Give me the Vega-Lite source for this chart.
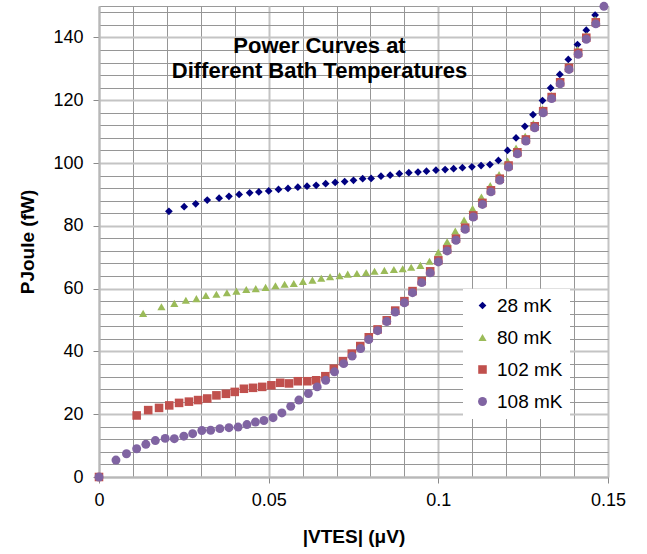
{
  "$schema": "https://vega.github.io/schema/vega-lite/v6.json",
  "width": 509,
  "height": 471,
  "autosize": {"type": "none"},
  "padding": {"left": 99, "top": 6, "right": 39, "bottom": 77},
  "background": "white",
  "config": {
    "view": {"stroke": "#9a9a9a", "strokeWidth": 1},
    "font": "Liberation Sans"
  },
  "title": {
    "text": ["Power Curves at", "Different Bath Temperatures"],
    "font": "Liberation Sans",
    "fontSize": 22,
    "fontWeight": "bold",
    "color": "#000000",
    "lineHeight": 25,
    "anchor": "middle",
    "frame": "group",
    "dx": -34,
    "offset": -81
  },
  "resolve": {"axis": {"x": "independent", "y": "independent"}},
  "datasets": {
    "pts": [
      {"s": "28 mK", "x": 0.0206, "y": 84.6},
      {"s": "28 mK", "x": 0.0251, "y": 86.1},
      {"s": "28 mK", "x": 0.0285, "y": 87.0},
      {"s": "28 mK", "x": 0.0319, "y": 88.2},
      {"s": "28 mK", "x": 0.0354, "y": 88.8},
      {"s": "28 mK", "x": 0.0383, "y": 89.4},
      {"s": "28 mK", "x": 0.0413, "y": 90.0},
      {"s": "28 mK", "x": 0.0444, "y": 90.5},
      {"s": "28 mK", "x": 0.0471, "y": 90.8},
      {"s": "28 mK", "x": 0.0500, "y": 91.1},
      {"s": "28 mK", "x": 0.0529, "y": 91.6},
      {"s": "28 mK", "x": 0.0557, "y": 91.9},
      {"s": "28 mK", "x": 0.0586, "y": 92.3},
      {"s": "28 mK", "x": 0.0613, "y": 92.6},
      {"s": "28 mK", "x": 0.0640, "y": 92.9},
      {"s": "28 mK", "x": 0.0668, "y": 93.4},
      {"s": "28 mK", "x": 0.0696, "y": 93.8},
      {"s": "28 mK", "x": 0.0724, "y": 94.1},
      {"s": "28 mK", "x": 0.0750, "y": 94.5},
      {"s": "28 mK", "x": 0.0777, "y": 95.0},
      {"s": "28 mK", "x": 0.0802, "y": 95.1},
      {"s": "28 mK", "x": 0.0831, "y": 95.8},
      {"s": "28 mK", "x": 0.0858, "y": 96.1},
      {"s": "28 mK", "x": 0.0885, "y": 96.6},
      {"s": "28 mK", "x": 0.0913, "y": 96.9},
      {"s": "28 mK", "x": 0.0940, "y": 97.1},
      {"s": "28 mK", "x": 0.0965, "y": 97.4},
      {"s": "28 mK", "x": 0.0993, "y": 97.7},
      {"s": "28 mK", "x": 0.1020, "y": 97.9},
      {"s": "28 mK", "x": 0.1045, "y": 98.2},
      {"s": "28 mK", "x": 0.1071, "y": 98.5},
      {"s": "28 mK", "x": 0.1099, "y": 98.8},
      {"s": "28 mK", "x": 0.1126, "y": 99.2},
      {"s": "28 mK", "x": 0.1152, "y": 99.5},
      {"s": "28 mK", "x": 0.1177, "y": 100.8},
      {"s": "28 mK", "x": 0.1204, "y": 104.0},
      {"s": "28 mK", "x": 0.1229, "y": 108.0},
      {"s": "28 mK", "x": 0.1255, "y": 111.7},
      {"s": "28 mK", "x": 0.1279, "y": 115.4},
      {"s": "28 mK", "x": 0.1307, "y": 119.9},
      {"s": "28 mK", "x": 0.1331, "y": 123.9},
      {"s": "28 mK", "x": 0.1358, "y": 128.2},
      {"s": "28 mK", "x": 0.1383, "y": 133.0},
      {"s": "28 mK", "x": 0.1410, "y": 137.7},
      {"s": "28 mK", "x": 0.1436, "y": 142.3},
      {"s": "28 mK", "x": 0.1462, "y": 147.1},

      {"s": "80 mK", "x": 0.0130, "y": 52.1},
      {"s": "80 mK", "x": 0.0184, "y": 54.2},
      {"s": "80 mK", "x": 0.0222, "y": 55.3},
      {"s": "80 mK", "x": 0.0256, "y": 56.3},
      {"s": "80 mK", "x": 0.0287, "y": 56.8},
      {"s": "80 mK", "x": 0.0315, "y": 57.8},
      {"s": "80 mK", "x": 0.0346, "y": 58.2},
      {"s": "80 mK", "x": 0.0377, "y": 58.7},
      {"s": "80 mK", "x": 0.0405, "y": 59.2},
      {"s": "80 mK", "x": 0.0434, "y": 59.7},
      {"s": "80 mK", "x": 0.0462, "y": 60.0},
      {"s": "80 mK", "x": 0.0491, "y": 60.4},
      {"s": "80 mK", "x": 0.0520, "y": 60.9},
      {"s": "80 mK", "x": 0.0547, "y": 61.4},
      {"s": "80 mK", "x": 0.0574, "y": 61.6},
      {"s": "80 mK", "x": 0.0601, "y": 62.3},
      {"s": "80 mK", "x": 0.0629, "y": 62.7},
      {"s": "80 mK", "x": 0.0655, "y": 63.3},
      {"s": "80 mK", "x": 0.0681, "y": 63.8},
      {"s": "80 mK", "x": 0.0709, "y": 64.1},
      {"s": "80 mK", "x": 0.0733, "y": 64.6},
      {"s": "80 mK", "x": 0.0760, "y": 64.8},
      {"s": "80 mK", "x": 0.0787, "y": 65.1},
      {"s": "80 mK", "x": 0.0812, "y": 65.5},
      {"s": "80 mK", "x": 0.0841, "y": 65.8},
      {"s": "80 mK", "x": 0.0869, "y": 66.1},
      {"s": "80 mK", "x": 0.0895, "y": 66.3},
      {"s": "80 mK", "x": 0.0920, "y": 66.8},
      {"s": "80 mK", "x": 0.0947, "y": 67.4},
      {"s": "80 mK", "x": 0.0974, "y": 68.7},
      {"s": "80 mK", "x": 0.1000, "y": 71.6},
      {"s": "80 mK", "x": 0.1026, "y": 74.9},
      {"s": "80 mK", "x": 0.1050, "y": 78.3},
      {"s": "80 mK", "x": 0.1076, "y": 81.8},
      {"s": "80 mK", "x": 0.1101, "y": 85.5},
      {"s": "80 mK", "x": 0.1127, "y": 89.2},
      {"s": "80 mK", "x": 0.1153, "y": 92.8},
      {"s": "80 mK", "x": 0.1179, "y": 96.3},
      {"s": "80 mK", "x": 0.1204, "y": 100.6},
      {"s": "80 mK", "x": 0.1229, "y": 104.8},
      {"s": "80 mK", "x": 0.1256, "y": 108.5},
      {"s": "80 mK", "x": 0.1280, "y": 112.6},
      {"s": "80 mK", "x": 0.1307, "y": 117.3},
      {"s": "80 mK", "x": 0.1333, "y": 121.5},
      {"s": "80 mK", "x": 0.1359, "y": 126.1},
      {"s": "80 mK", "x": 0.1383, "y": 130.8},
      {"s": "80 mK", "x": 0.1410, "y": 136.1},
      {"s": "80 mK", "x": 0.1436, "y": 140.6},
      {"s": "80 mK", "x": 0.1462, "y": 145.7},

      {"s": "102 mK", "x": 0.0, "y": 0.0},
      {"s": "102 mK", "x": 0.0111, "y": 19.6},
      {"s": "102 mK", "x": 0.0145, "y": 21.3},
      {"s": "102 mK", "x": 0.0177, "y": 22.0},
      {"s": "102 mK", "x": 0.0207, "y": 22.8},
      {"s": "102 mK", "x": 0.0236, "y": 23.6},
      {"s": "102 mK", "x": 0.0265, "y": 24.0},
      {"s": "102 mK", "x": 0.0292, "y": 24.5},
      {"s": "102 mK", "x": 0.0319, "y": 25.0},
      {"s": "102 mK", "x": 0.0346, "y": 26.0},
      {"s": "102 mK", "x": 0.0374, "y": 26.5},
      {"s": "102 mK", "x": 0.0400, "y": 27.1},
      {"s": "102 mK", "x": 0.0427, "y": 28.1},
      {"s": "102 mK", "x": 0.0454, "y": 28.4},
      {"s": "102 mK", "x": 0.0481, "y": 28.7},
      {"s": "102 mK", "x": 0.0508, "y": 29.2},
      {"s": "102 mK", "x": 0.0534, "y": 30.0},
      {"s": "102 mK", "x": 0.0560, "y": 29.8},
      {"s": "102 mK", "x": 0.0586, "y": 30.5},
      {"s": "102 mK", "x": 0.0614, "y": 30.5},
      {"s": "102 mK", "x": 0.0640, "y": 30.8},
      {"s": "102 mK", "x": 0.0667, "y": 32.1},
      {"s": "102 mK", "x": 0.0692, "y": 34.5},
      {"s": "102 mK", "x": 0.0719, "y": 36.9},
      {"s": "102 mK", "x": 0.0745, "y": 39.3},
      {"s": "102 mK", "x": 0.0770, "y": 41.7},
      {"s": "102 mK", "x": 0.0795, "y": 44.5},
      {"s": "102 mK", "x": 0.0821, "y": 47.0},
      {"s": "102 mK", "x": 0.0848, "y": 49.9},
      {"s": "102 mK", "x": 0.0873, "y": 53.0},
      {"s": "102 mK", "x": 0.0900, "y": 56.0},
      {"s": "102 mK", "x": 0.0924, "y": 59.2},
      {"s": "102 mK", "x": 0.0951, "y": 62.4},
      {"s": "102 mK", "x": 0.0976, "y": 65.5},
      {"s": "102 mK", "x": 0.1000, "y": 69.0},
      {"s": "102 mK", "x": 0.1026, "y": 72.5},
      {"s": "102 mK", "x": 0.1052, "y": 75.9},
      {"s": "102 mK", "x": 0.1079, "y": 79.4},
      {"s": "102 mK", "x": 0.1103, "y": 83.3},
      {"s": "102 mK", "x": 0.1130, "y": 87.3},
      {"s": "102 mK", "x": 0.1155, "y": 91.3},
      {"s": "102 mK", "x": 0.1181, "y": 95.0},
      {"s": "102 mK", "x": 0.1207, "y": 99.2},
      {"s": "102 mK", "x": 0.1233, "y": 103.4},
      {"s": "102 mK", "x": 0.1258, "y": 107.5},
      {"s": "102 mK", "x": 0.1284, "y": 111.7},
      {"s": "102 mK", "x": 0.1309, "y": 116.5},
      {"s": "102 mK", "x": 0.1334, "y": 121.0},
      {"s": "102 mK", "x": 0.1359, "y": 125.7},
      {"s": "102 mK", "x": 0.1385, "y": 130.3},
      {"s": "102 mK", "x": 0.1412, "y": 135.1},
      {"s": "102 mK", "x": 0.1436, "y": 139.9},
      {"s": "102 mK", "x": 0.1464, "y": 144.8},

      {"s": "108 mK", "x": 0.0, "y": 0.0},
      {"s": "108 mK", "x": 0.0050, "y": 5.4},
      {"s": "108 mK", "x": 0.0081, "y": 7.4},
      {"s": "108 mK", "x": 0.0111, "y": 9.0},
      {"s": "108 mK", "x": 0.0138, "y": 10.4},
      {"s": "108 mK", "x": 0.0166, "y": 11.6},
      {"s": "108 mK", "x": 0.0195, "y": 12.3},
      {"s": "108 mK", "x": 0.0222, "y": 12.2},
      {"s": "108 mK", "x": 0.0250, "y": 13.0},
      {"s": "108 mK", "x": 0.0276, "y": 13.8},
      {"s": "108 mK", "x": 0.0303, "y": 14.8},
      {"s": "108 mK", "x": 0.0329, "y": 14.9},
      {"s": "108 mK", "x": 0.0356, "y": 15.4},
      {"s": "108 mK", "x": 0.0383, "y": 15.7},
      {"s": "108 mK", "x": 0.0410, "y": 15.9},
      {"s": "108 mK", "x": 0.0436, "y": 16.7},
      {"s": "108 mK", "x": 0.0461, "y": 17.5},
      {"s": "108 mK", "x": 0.0486, "y": 18.0},
      {"s": "108 mK", "x": 0.0513, "y": 18.9},
      {"s": "108 mK", "x": 0.0539, "y": 20.4},
      {"s": "108 mK", "x": 0.0565, "y": 22.5},
      {"s": "108 mK", "x": 0.0589, "y": 24.5},
      {"s": "108 mK", "x": 0.0617, "y": 26.6},
      {"s": "108 mK", "x": 0.0643, "y": 28.7},
      {"s": "108 mK", "x": 0.0668, "y": 30.8},
      {"s": "108 mK", "x": 0.0694, "y": 33.5},
      {"s": "108 mK", "x": 0.0721, "y": 36.1},
      {"s": "108 mK", "x": 0.0746, "y": 38.5},
      {"s": "108 mK", "x": 0.0771, "y": 40.9},
      {"s": "108 mK", "x": 0.0795, "y": 43.8},
      {"s": "108 mK", "x": 0.0821, "y": 46.6},
      {"s": "108 mK", "x": 0.0848, "y": 49.5},
      {"s": "108 mK", "x": 0.0873, "y": 52.5},
      {"s": "108 mK", "x": 0.0900, "y": 55.5},
      {"s": "108 mK", "x": 0.0924, "y": 58.7},
      {"s": "108 mK", "x": 0.0951, "y": 61.9},
      {"s": "108 mK", "x": 0.0976, "y": 65.0},
      {"s": "108 mK", "x": 0.1000, "y": 68.5},
      {"s": "108 mK", "x": 0.1026, "y": 72.0},
      {"s": "108 mK", "x": 0.1052, "y": 75.4},
      {"s": "108 mK", "x": 0.1079, "y": 78.9},
      {"s": "108 mK", "x": 0.1103, "y": 82.8},
      {"s": "108 mK", "x": 0.1130, "y": 86.8},
      {"s": "108 mK", "x": 0.1155, "y": 90.8},
      {"s": "108 mK", "x": 0.1181, "y": 94.5},
      {"s": "108 mK", "x": 0.1207, "y": 98.7},
      {"s": "108 mK", "x": 0.1233, "y": 102.9},
      {"s": "108 mK", "x": 0.1258, "y": 107.0},
      {"s": "108 mK", "x": 0.1284, "y": 111.2},
      {"s": "108 mK", "x": 0.1309, "y": 116.0},
      {"s": "108 mK", "x": 0.1334, "y": 120.5},
      {"s": "108 mK", "x": 0.1359, "y": 125.2},
      {"s": "108 mK", "x": 0.1385, "y": 129.8},
      {"s": "108 mK", "x": 0.1412, "y": 134.6},
      {"s": "108 mK", "x": 0.1436, "y": 139.4},
      {"s": "108 mK", "x": 0.1464, "y": 144.3},
      {"s": "108 mK", "x": 0.1488, "y": 149.9}
    ]
  },
  "layer": [
    {
      "mark": {"type": "rect", "color": "white", "opacity": 1},
      "encoding": {
        "x": {"datum": 0.0200, "type": "quantitative", "axis": null},
        "x2": {"datum": 0.1100},
        "y": {"datum": 125.5, "type": "quantitative", "axis": null},
        "y2": {"datum": 143.2}
      }
    },
    {
      "data": {"name": "pts"},
      "mark": {"type": "point", "filled": true, "opacity": 1, "strokeWidth": 0},
      "encoding": {
        "x": {
          "field": "x",
          "type": "quantitative",
          "scale": {"domain": [0, 0.15], "nice": false, "zero": false},
          "axis": {
            "values": [0, 0.01, 0.02, 0.03, 0.04, 0.05, 0.06, 0.07, 0.08, 0.09, 0.1, 0.11, 0.12, 0.13, 0.14, 0.15],
            "grid": true,
            "gridColor": {"condition": {"test": "abs(datum.value*20 - round(datum.value*20)) < 0.001", "value": "#c4c4c4"}, "value": "#969696"},
            "gridWidth": {"condition": {"test": "abs(datum.value*20 - round(datum.value*20)) < 0.001", "value": 2}, "value": 1},
            "labelExpr": "abs(datum.value*20 - round(datum.value*20)) < 0.001 ? toString(round(datum.value*100)/100) : ''",
            "tickOpacity": {"condition": {"test": "abs(datum.value*20 - round(datum.value*20)) < 0.001", "value": 1}, "value": 0},
            "tickColor": "#8a8a8a",
            "tickSize": 6,
            "domainColor": "#b8b8b8",
            "domainWidth": 2,
            "labelFont": "Liberation Sans",
            "labelFontSize": 18,
            "labelColor": "#000000",
            "labelPadding": 8,
            "labelFlush": false,
            "labelOverlap": false,
            "labelBound": false,
            "title": "|VTES| (μV)",
            "titleFont": "Liberation Sans",
            "titleFontSize": 19,
            "titleFontWeight": "bold",
            "titleColor": "#000000",
            "titlePadding": 18
          }
        },
        "y": {
          "field": "y",
          "type": "quantitative",
          "scale": {"domain": [0, 150], "nice": false, "zero": false},
          "axis": {
            "values": [0, 4, 8, 12, 16, 20, 24, 28, 32, 36, 40, 44, 48, 52, 56, 60, 64, 68, 72, 76, 80, 84, 88, 92, 96, 100, 104, 108, 112, 116, 120, 124, 128, 132, 136, 140, 144, 148],
            "grid": true,
            "gridColor": {"condition": {"test": "datum.value % 20 == 0", "value": "#c4c4c4"}, "value": "#969696"},
            "gridWidth": {"condition": {"test": "datum.value % 20 == 0", "value": 2}, "value": 1},
            "labelExpr": "datum.value % 20 == 0 ? datum.label : ''",
            "tickOpacity": {"condition": {"test": "datum.value % 20 == 0", "value": 1}, "value": 0},
            "tickColor": "#8a8a8a",
            "tickSize": 6,
            "domainColor": "#b8b8b8",
            "domainWidth": 2,
            "labelFont": "Liberation Sans",
            "labelFontSize": 18,
            "labelColor": "#000000",
            "labelPadding": 10,
            "labelFlush": false,
            "labelOverlap": false,
            "labelBound": false,
            "title": "PJoule (fW)",
            "titleFont": "Liberation Sans",
            "titleFontSize": 19,
            "titleFontWeight": "bold",
            "titleColor": "#000000",
            "titlePadding": 15
          }
        },
        "color": {
          "field": "s",
          "type": "nominal",
          "scale": {"domain": ["28 mK", "80 mK", "102 mK", "108 mK"], "range": ["#000080", "#9BBB59", "#C0504D", "#8064A2"]},
          "legend": {
            "orient": "none",
            "legendX": 364,
            "legendY": 283,
            "title": null,
            "fillColor": "white",
            "padding": 7,
            "labelFont": "Liberation Sans",
            "labelFontSize": 19,
            "labelColor": "#000000",
            "symbolSize": 40,
            "rowPadding": 12,
            "labelOffset": 5,
            "symbolOffset": 3,
            "symbolStrokeWidth": 0
          }
        },
        "shape": {
          "field": "s",
          "type": "nominal",
          "scale": {"domain": ["28 mK", "80 mK", "102 mK", "108 mK"], "range": ["diamond", "triangle-up", "square", "circle"]},
          "legend": {
            "orient": "none",
            "legendX": 364,
            "legendY": 283,
            "title": null,
            "fillColor": "white",
            "padding": 7,
            "labelFont": "Liberation Sans",
            "labelFontSize": 19,
            "labelColor": "#000000",
            "symbolSize": 40,
            "rowPadding": 12,
            "labelOffset": 5,
            "symbolOffset": 3,
            "symbolStrokeWidth": 0
          }
        },
        "size": {
          "field": "s",
          "type": "nominal",
          "scale": {"domain": ["28 mK", "80 mK", "102 mK", "108 mK"], "range": [60, 80, 56, 64]},
          "legend": null
        }
      }
    }
  ]
}
